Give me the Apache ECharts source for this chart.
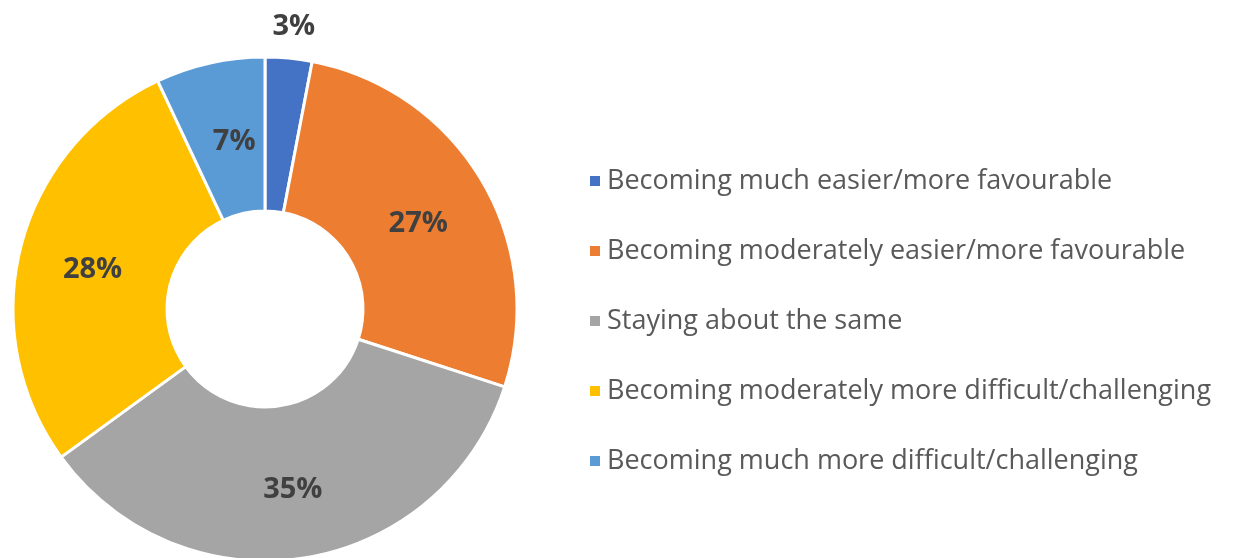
<!DOCTYPE html>
<html>
<head>
<meta charset="utf-8">
<script src="https://cdn.jsdelivr.net/npm/echarts@6/dist/echarts.min.js"></script>
<style>
html,body{margin:0;padding:0;background:#fff;}
#chart{width:1239px;height:558px;}
</style>
</head>
<body>
<div id="chart"></div>
<script>
const categories = [
  'Becoming much easier/more favourable',
  'Becoming moderately easier/more favourable',
  'Staying about the same',
  'Becoming moderately more difficult/challenging',
  'Becoming much more difficult/challenging'
];
const values = [3, 27, 35, 28, 7];
const colors = ['#4472C4', '#ED7D31', '#A5A5A5', '#FFC000', '#5B9BD5'];

const chart = echarts.init(document.getElementById('chart'));
const data = categories.map((name, i) => {
  const d = { name: name, value: values[i], itemStyle: { color: colors[i] } };
  if (i === 0) d.label = { offset: [12, -105] };
  if (i === 4) d.label = { offset: [8, 6] };
  return d;
});

chart.setOption({
  animation: false,
  legend: {
    orient: 'vertical',
    left: 583,
    top: 161,
    itemWidth: 12,
    itemHeight: 12,
    itemGap: 40,
    icon: 'rect',
    textStyle: {
      fontFamily: '"Open Sans", sans-serif',
      fontSize: 27,
      color: '#595959',
      lineHeight: 30,
      padding: [0, 0, 0, 1]
    },
    data: categories
  },
  series: [{
    type: 'pie',
    center: [265, 309],
    radius: [98, 252],
    startAngle: 90,
    clockwise: true,
    avoidLabelOverlap: false,
    itemStyle: { borderColor: '#fff', borderWidth: 3 },
    label: {
      show: true,
      position: 'inside',
      formatter: '{c}%',
      fontFamily: '"Open Sans", sans-serif',
      fontWeight: 'bold',
      fontSize: 29,
      color: '#404040',
      offset: [0, 5]
    },
    labelLine: { show: false },
    emphasis: { disabled: true },
    data: data
  }]
});
</script>
</body>
</html>
